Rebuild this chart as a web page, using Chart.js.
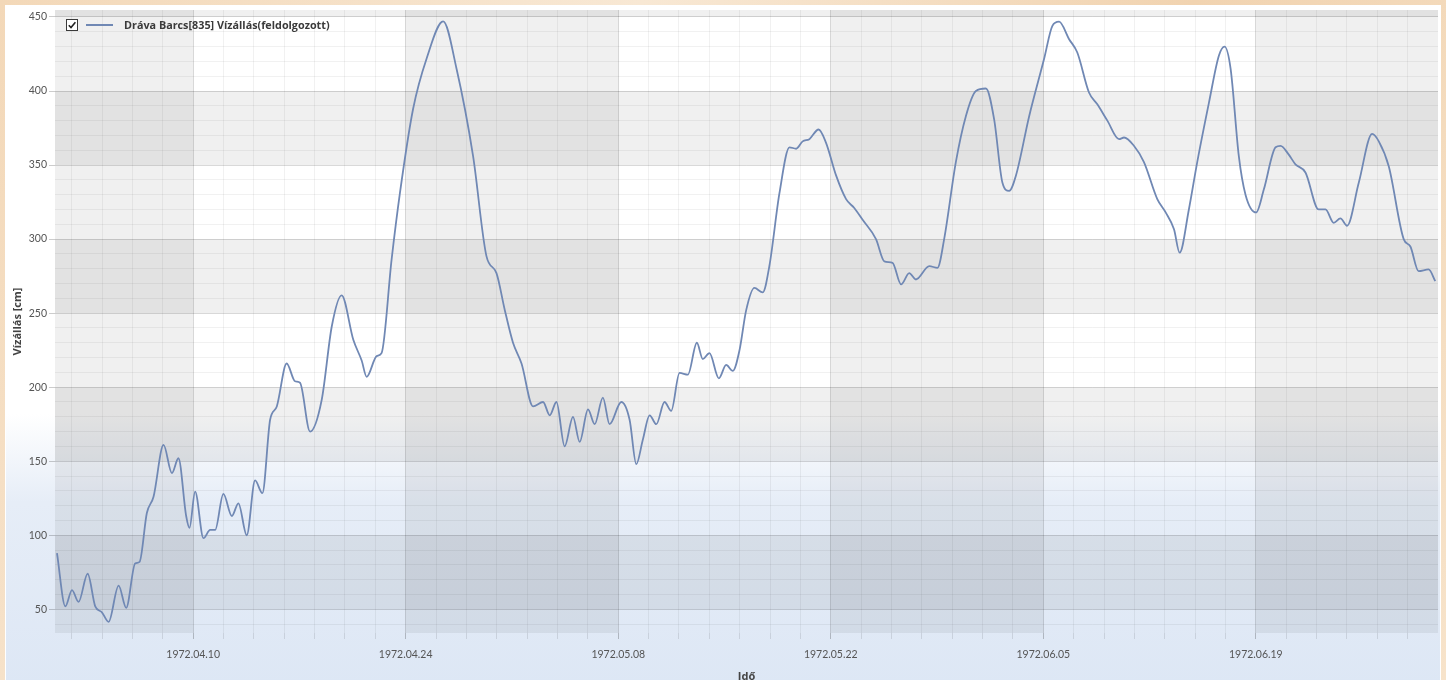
<!DOCTYPE html>
<html>
<head>
<meta charset="utf-8">
<title>Dráva Barcs[835] Vízállás</title>
<script src="https://cdn.jsdelivr.net/npm/chart.js@4.4.1/dist/chart.umd.min.js"></script>
<style>
	html, body { margin: 0; padding: 0; }
	body {
		width: 1446px; height: 680px; overflow: hidden; position: relative;
		background: linear-gradient(120deg, #f3d8b8 0%, #f8e8d4 35%, #f1d3b0 65%, #f7e3ca 100%);
		font-family: Lato, "Open Sans", sans-serif;
	}
	#panel {
		position: absolute; left: 5px; top: 5px; width: 1434px; height: 680px;
		border: 1px solid #ffffff;
		background: linear-gradient(to bottom, #ffffff 0%, #ffffff 60%, #e6edf7 73%, #dde7f5 100%);
	}
	#chart-box { position: absolute; left: 0; top: 0; width: 1434px; height: 680px; }
	#legend { position: absolute; left: 66px; top: 19px; height: 13px; z-index: 2; }
	#legend .box {
		position: absolute; left: 0; top: 0; width: 10px; height: 10px;
		border: 1px solid #3a3a3a; background: #fff;
	}
	#legend .box svg { position: absolute; left: 0; top: 0; }
	#legend .swatch { position: absolute; left: 20px; top: 5px; width: 27px; height: 2px; background: #7088b4; }
	#legend .label {
		position: absolute; left: 58px; top: -2px; white-space: nowrap;
		font: bold 10.8px "Open Sans", Lato, sans-serif; color: #3a3a3a;
	}
</style>
</head>
<body>
<div id="panel">
	<div id="chart-box"><canvas id="level-chart"></canvas></div>
</div>
<div id="legend">
	<div class="box"><svg width="10" height="10" viewBox="0 0 10 10"><path d="M1.8 5.2 L4 7.6 L8.4 2.2" fill="none" stroke="#222" stroke-width="1.6"/></svg></div>
	<div class="swatch"></div>
	<div class="label">Dráva Barcs[835] Vízállás(feldolgozott)</div>
</div>
<script>
	// time in days since 1972.04.01 00:00
	var dayOffsets = [
		0.03, 0.58, 1.02, 1.45, 2.05, 2.55, 2.99, 3.43, 4.09, 4.59,
		5.18, 5.47, 5.95, 6.39, 7.05, 7.6, 8.03, 8.54, 8.76, 9.13,
		9.68, 10.12, 10.45, 10.99, 11.55, 11.98, 12.53, 13.08, 13.56, 14.07,
		14.51, 15.16, 15.71, 16.04, 16.7, 17.47, 18.13, 18.78, 19.55, 20.1,
		20.43, 21.09, 21.41, 22.07, 22.62, 23.49, 24.38, 25.47, 26.35, 27.44,
		28.32, 28.98, 29.53, 30.07, 30.63, 31.39, 32.05, 32.49, 32.93, 33.47,
		34.02, 34.46, 35.01, 35.45, 35.99, 36.43, 37.2, 37.75, 38.19, 38.62,
		39.07, 39.51, 40.05, 40.49, 41.04, 41.59, 42.18, 42.57, 43.01, 43.63,
		44.11, 44.55, 44.99, 45.43, 45.97, 46.52, 46.96, 47.62, 48.28, 48.72,
		49.15, 49.59, 50.2, 50.69, 51.35, 52.01, 52.55, 53.1, 53.98, 54.53,
		55.07, 55.63, 56.17, 56.61, 57.49, 58.03, 58.47, 59.24, 59.9, 60.56,
		61.22, 61.76, 62.31, 62.75, 63.19, 64.07, 65.05, 65.6, 66.04, 66.7,
		67.24, 68.01, 68.56, 69.22, 69.99, 70.32, 70.97, 71.63, 72.51, 73.06,
		73.61, 73.98, 74.59, 75.14, 75.91, 76.57, 76.94, 77.34, 77.88, 78.32,
		79.02, 79.53, 80.3, 80.63, 81.17, 81.61, 82.27, 83.14, 83.59, 84.13,
		84.57, 85.01, 85.78, 86.66, 87.1, 87.76, 88.74, 89.18, 89.72, 90.38,
		90.82
	];
	// water level [cm]
	var levels = [
		88, 52, 63, 55, 74, 52, 48, 41.5, 66, 51,
		81, 82, 115, 126, 161, 142, 152, 113, 105, 129.5,
		98, 103.6, 103.6, 128, 113, 121.6, 100, 137, 128.4, 178,
		187, 216, 204, 203, 170, 191.5, 241, 262, 232, 218,
		207, 221, 223, 286, 331, 388, 422, 447, 415, 356,
		288.5, 277, 252, 230, 216, 187, 190, 181, 190, 160,
		180, 163, 185, 175, 193, 175, 190, 178, 148, 164.5,
		181, 175, 190, 184, 209.6, 208.5, 230, 219, 223, 206,
		215, 211, 225, 252, 267, 264, 282, 331, 362, 361,
		366, 367.5, 374, 365, 343, 327, 321, 313, 300, 285,
		284, 269.4, 277, 272.7, 281.7, 280.6, 300, 352, 383, 400,
		401.7, 381, 338, 332.5, 342.6, 383, 421.6, 444, 446.8, 435,
		426, 399, 391, 380, 367.5, 368.6, 363, 352, 327, 318,
		306.6, 290.8, 320, 352, 392, 424, 430, 415, 356, 330,
		318, 333.6, 362, 363, 357, 350.5, 345, 320, 320, 311,
		314, 309, 338, 371, 366, 349, 300, 295, 278.4, 279.5,
		271.6
	];
	var tickDays = [9, 23, 37, 51, 65, 79];
	var tickLabels = ['1972.04.10', '1972.04.24', '1972.05.08', '1972.05.22', '1972.06.05', '1972.06.19'];
	var yTickValues = [50, 100, 150, 200, 250, 300, 350, 400, 450];

	var lineColour = '#7088b4';
	var majorGrid = 'rgba(0,0,0,0.15)';
	var minorGrid = 'rgba(0,0,0,0.055)';
	var tickFont = { family: 'Lato, "Open Sans", sans-serif', size: 10.5 };
	var titleFont = { family: '"Open Sans", Lato, sans-serif', size: 11, weight: 'bold' };

	// shaded checkerboard: every other 14 day column and every other 50 cm row
	var bandsPlugin = {
		id: 'bands',
		beforeDraw: function(chart) {
			var ctx = chart.ctx, a = chart.chartArea;
			var x = chart.scales.x, y = chart.scales.y;
			ctx.save();
			ctx.beginPath();
			ctx.rect(a.left, a.top, a.right - a.left, a.bottom - a.top);
			ctx.clip();
			ctx.fillStyle = 'rgba(0,0,0,0.06)';
			for (var d = tickDays[0] - 14; d < x.max; d += 28) {
				var x0 = x.getPixelForValue(d), x1 = x.getPixelForValue(d + 14);
				ctx.fillRect(x0, a.top, x1 - x0, a.bottom - a.top);
			}
			for (var v = yTickValues[0]; v < y.max; v += 100) {
				var y0 = y.getPixelForValue(v + 50), y1 = y.getPixelForValue(v);
				ctx.fillRect(a.left, y0, a.right - a.left, y1 - y0);
			}
			ctx.restore();
		}
	};

	function isMajorDay(v) { return tickDays.indexOf(v) !== -1; }

	var points = dayOffsets.map(function(d, i) { return { x: d, y: levels[i] }; });

	new Chart(document.getElementById('level-chart'), {
		type: 'line',
		data: {
			datasets: [{
				label: 'Dráva Barcs[835] Vízállás(feldolgozott)',
				data: points,
				borderColor: lineColour,
				backgroundColor: lineColour,
				borderWidth: 1.8,
				pointRadius: 0,
				cubicInterpolationMode: 'monotone',
				fill: false
			}]
		},
		options: {
			responsive: true,
			maintainAspectRatio: false,
			animation: false,
			layout: { padding: { top: 4, right: 2, left: 0, bottom: 0 } },
			plugins: {
				legend: { display: false },
				tooltip: { enabled: false }
			},
			scales: {
				x: {
					type: 'linear',
					min: -0.1,
					max: 91,
					afterFit: function(scale) {
						scale.height = 53;
						scale.paddingLeft = 0;
						scale.paddingRight = 0;
					},
					afterBuildTicks: function(scale) {
						var t = [];
						for (var d = 1; d < 91; d += 2) t.push({ value: d });
						scale.ticks = t;
					},
					border: { display: false },
					grid: {
						color: function(c) { return isMajorDay(c.tick.value) ? majorGrid : minorGrid; },
						tickColor: function(c) { return isMajorDay(c.tick.value) ? 'rgba(0,0,0,0.22)' : 'rgba(0,0,0,0.1)'; },
						tickLength: 6
					},
					ticks: {
						autoSkip: false,
						maxRotation: 0,
						minRotation: 0,
						padding: 9,
						color: '#555',
						font: tickFont,
						callback: function(value) {
							var i = tickDays.indexOf(value);
							return i === -1 ? '' : tickLabels[i];
						}
					},
					title: {
						display: true,
						text: 'Idő',
						color: '#444',
						font: titleFont,
						padding: { top: 0, bottom: 3 }
					}
				},
				y: {
					min: 34,
					max: 454.7,
					afterFit: function(scale) {
						scale.width = 49;
						scale.paddingTop = 0;
						scale.paddingBottom = 0;
					},
					afterBuildTicks: function(scale) {
						var t = [];
						for (var v = 40; v <= 450; v += 10) t.push({ value: v });
						scale.ticks = t;
					},
					border: { display: false },
					grid: {
						color: function(c) { return yTickValues.indexOf(c.tick.value) !== -1 ? majorGrid : minorGrid; },
						tickColor: function(c) { return yTickValues.indexOf(c.tick.value) !== -1 ? 'rgba(0,0,0,0.2)' : 'rgba(0,0,0,0)'; },
						tickLength: 6
					},
					ticks: {
						autoSkip: false,
						padding: 2,
						color: '#555',
						font: tickFont,
						callback: function(value) {
							return yTickValues.indexOf(value) !== -1 ? String(value) : '';
						}
					},
					title: {
						display: true,
						text: 'Vízállás [cm]',
						color: '#444',
						font: titleFont,
						padding: { top: 5, bottom: 0 }
					}
				}
			}
		},
		plugins: [bandsPlugin]
	});
</script>
</body>
</html>
